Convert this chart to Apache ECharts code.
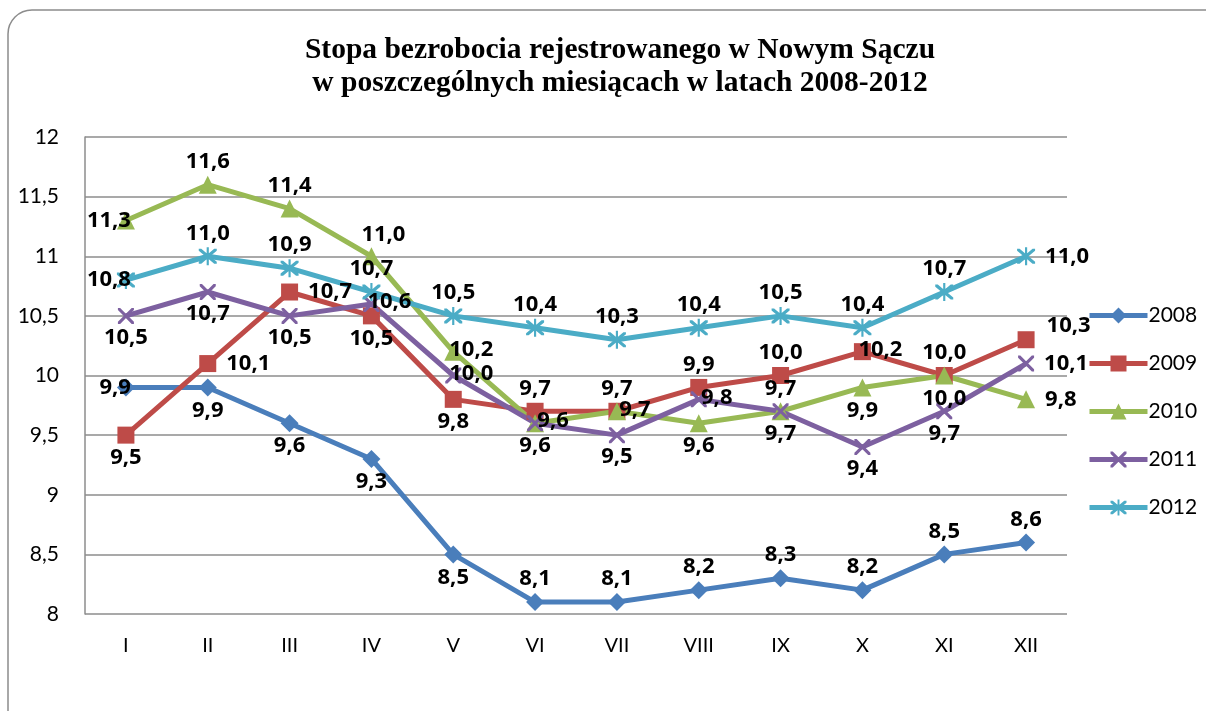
<!DOCTYPE html>
<html>
<head>
<meta charset="utf-8">
<script src="https://cdn.jsdelivr.net/npm/echarts@6/dist/echarts.min.js"></script>
<style>
  html, body { margin: 0; padding: 0; background: #fff; }
  #chart { width: 1206px; height: 711px; }
</style>
</head>
<body>
<div id="chart"></div>
<script>
const months = ['I', 'II', 'III', 'IV', 'V', 'VI', 'VII', 'VIII', 'IX', 'X', 'XI', 'XII'];
const years = ['2008', '2009', '2010', '2011', '2012'];
const yTicks = [8, 8.5, 9, 9.5, 10, 10.5, 11, 11.5, 12];

const v2008 = [9.9, 9.9, 9.6, 9.3, 8.5, 8.1, 8.1, 8.2, 8.3, 8.2, 8.5, 8.6];
const v2009 = [9.5, 10.1, 10.7, 10.5, 9.8, 9.7, 9.7, 9.9, 10.0, 10.2, 10.0, 10.3];
const v2010 = [11.3, 11.6, 11.4, 11.0, 10.2, 9.6, 9.7, 9.6, 9.7, 9.9, 10.0, 9.8];
const v2011 = [10.5, 10.7, 10.5, 10.6, 10.0, 9.6, 9.5, 9.8, 9.7, 9.4, 9.7, 10.1];
const v2012 = [10.8, 11.0, 10.9, 10.7, 10.5, 10.4, 10.3, 10.4, 10.5, 10.4, 10.7, 11.0];

// where each data label sits (styling, kept apart from the values)
const pos2008 = ['L', 'B', 'B', 'B', 'B', 'T', 'T', 'T', 'T', 'T', 'T', 'T'];
const pos2009 = ['B', 'R', 'R', 'B', 'B', 'T', 'T', 'T', 'T', 'C', 'T', 'RT'];
const pos2010 = ['L', 'T', 'T', 'TR', 'C', 'B', 'C', 'B', 'T', 'B', 'B', 'R'];
const pos2011 = ['B', 'B', 'B', 'C', 'C', 'C', 'B', 'C', 'B', 'B', 'B', 'R'];
const pos2012 = ['L', 'T', 'T', 'T', 'T', 'T', 'T', 'T', 'T', 'T', 'T', 'R'];

const labelStyles = {
  T: { position: 'top', distance: 3 },
  B: { position: 'bottom', distance: 3 },
  L: { position: 'left', distance: -14 },
  R: { position: 'right', distance: 10 },
  RT: { position: 'right', distance: 12, offset: [0, -14] },
  TR: { position: 'top', distance: 2, offset: [12, 0] },
  C: { position: 'inside', offset: [18, -2] }
};

const crossPath = 'path://M0,0L1.4,0L10,8.6L10,10L8.6,10L0,1.4Z M8.6,0L10,0L10,1.4L1.4,10L0,10L0,8.6Z';
const starPath = 'path://M0,0L1.4,0L10,8.6L10,10L8.6,10L0,1.4Z M8.6,0L10,0L10,1.4L1.4,10L0,10L0,8.6Z M4.4,-1L5.6,-1L5.6,11L4.4,11Z';

const seriesDefs = [
  { name: '2008', values: v2008, pos: pos2008, color: '#4a7ebb', symbol: 'diamond', size: 18 },
  { name: '2009', values: v2009, pos: pos2009, color: '#be4b48', symbol: 'rect', size: 17 },
  { name: '2010', values: v2010, pos: pos2010, color: '#98b954', symbol: 'triangle', size: 18 },
  { name: '2011', values: v2011, pos: pos2011, color: '#7d60a0', symbol: crossPath, size: 16 },
  { name: '2012', values: v2012, pos: pos2012, color: '#4bacc6', symbol: starPath, size: 18 }
];

const chart = echarts.init(document.getElementById('chart'));

function labelText(v) {
  return '{v|' + v.toFixed(1).replace('.', ',') + '}';
}

chart.setOption({
  animation: false,
  backgroundColor: '#fff',
  graphic: [{
    type: 'rect',
    shape: { x: 8, y: 10, width: 1240, height: 760, r: 24 },
    style: { fill: 'none', stroke: '#8c8c8c', lineWidth: 1.5 },
    silent: true
  }],
  title: {
    text: 'Stopa bezrobocia rejestrowanego w Nowym Sączu\nw poszczególnych miesiącach w latach 2008-2012',
    left: 615,
    textAlign: 'center',
    top: 29,
    textStyle: {
      fontFamily: 'Liberation Serif',
      fontWeight: 'bold',
      fontSize: 29.5,
      lineHeight: 33,
      color: '#000'
    }
  },
  legend: {
    orient: 'vertical',
    left: 1082,
    top: 300,
    itemWidth: 58,
    itemHeight: 20,
    itemGap: 27,
    data: years,
    lineStyle: { width: 5 },
    textStyle: { fontFamily: 'Lato', fontSize: 21, color: '#000', padding: [0, 0, 0, -4] }
  },
  grid: { left: 85, right: 139, top: 137, bottom: 97 },
  xAxis: {
    type: 'category',
    data: months,
    boundaryGap: true,
    axisLine: { show: false },
    axisTick: { show: false },
    axisLabel: { fontFamily: 'Lato', fontSize: 20, color: '#000', margin: 22 }
  },
  yAxis: {
    type: 'value',
    min: 8,
    max: 12,
    interval: 0.5,
    axisLine: { show: true, lineStyle: { color: '#8c8c8c', width: 1.5 } },
    axisTick: { show: false },
    splitLine: { lineStyle: { color: '#8c8c8c', width: 1.5 } },
    axisLabel: {
      fontFamily: 'Lato', fontSize: 21, color: '#000', margin: 26,
      formatter: v => yTicks.includes(v) ? String(v).replace('.', ',') : ''
    }
  },
  series: seriesDefs.map(s => ({
    name: s.name,
    type: 'line',
    symbol: s.symbol,
    symbolSize: s.size,
    showAllSymbol: true,
    itemStyle: { color: s.color },
    lineStyle: { color: s.color, width: 5 },
    label: {
      show: true,
      formatter: p => labelText(p.value),
      rich: {
        v: { fontFamily: 'Open Sans', fontWeight: 'bold', fontSize: 22, color: '#000' }
      }
    },
    data: s.values.map((v, i) => ({
      value: v,
      label: labelStyles[s.pos[i]]
    }))
  }))
});
</script>
</body>
</html>
